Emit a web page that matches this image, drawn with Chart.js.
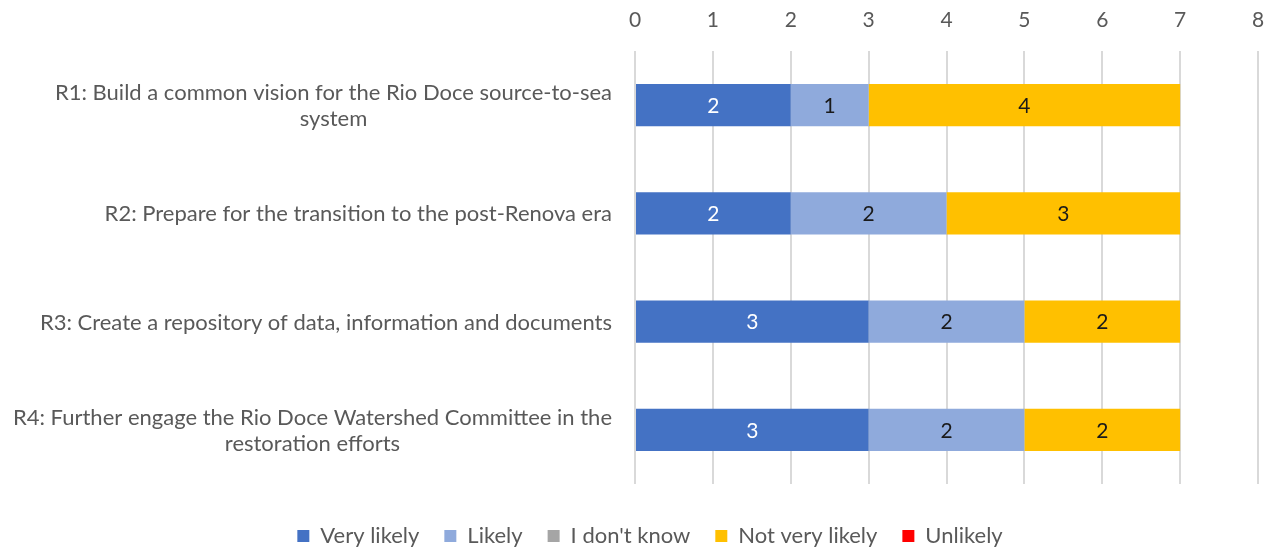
<!DOCTYPE html>
<html>
<head>
<meta charset="utf-8">
<script src="https://cdn.jsdelivr.net/npm/chart.js@4.4.1/dist/chart.umd.min.js"></script>
<style>
  html, body { margin: 0; padding: 0; background: #fff; }
  #wrap { width: 1275px; height: 548px; }
</style>
</head>
<body>
<div id="wrap"><canvas id="myChart"></canvas></div>
<script>
const categories = [
    ['R1: Build a common vision for the Rio Doce source-to-sea', 'system'],
    'R2: Prepare for the transition to the post-Renova era',
    'R3: Create a repository of data, information and documents',
    ['R4: Further engage the Rio Doce Watershed Committee in the', 'restoration efforts']
];
const seriesNames = ['Very likely', 'Likely', "I don't know", 'Not very likely', 'Unlikely'];
const veryLikely = [2, 2, 3, 3];
const likely = [1, 2, 2, 2];
const dontKnow = [0, 0, 0, 0];
const notVeryLikely = [4, 3, 2, 2];
const unlikely = [0, 0, 0, 0];
const xMin = 0;
const xMax = 8;

const colors = ['#4472C4', '#8FAADC', '#A5A5A5', '#FFC000', '#FF0000'];
const labelColors = ['#ffffff', '#1a1a1a', '#1a1a1a', '#1a1a1a', '#1a1a1a'];
const TEXT = '#595959';
const FONT = 'Lato';

// numbers in the middle of each bar segment
const barValues = {
    id: 'barValues',
    afterDatasetsDraw(chart) {
        const ctx = chart.ctx;
        ctx.save();
        ctx.font = '21px ' + FONT;
        ctx.textAlign = 'center';
        ctx.textBaseline = 'middle';
        chart.data.datasets.forEach((ds, i) => {
            const meta = chart.getDatasetMeta(i);
            if (meta.hidden) return;
            meta.data.forEach((bar, j) => {
                const v = ds.data[j];
                if (!v) return;
                const p = bar.getProps(['x', 'y', 'base'], true);
                ctx.fillStyle = labelColors[i];
                ctx.fillText(String(v), (p.x + p.base) / 2, p.y + 1);
            });
        });
        ctx.restore();
    }
};

// category labels: block right-aligned, lines centred within block
const catLabels = {
    id: 'catLabels',
    afterDraw(chart) {
        const scale = chart.scales.y;
        const ctx = chart.ctx;
        const lineH = 26;
        ctx.save();
        ctx.font = '22px ' + FONT;
        ctx.fillStyle = TEXT;
        ctx.textAlign = 'center';
        ctx.textBaseline = 'middle';
        categories.forEach((lab, i) => {
            const lines = Array.isArray(lab) ? lab : [lab];
            const w = Math.max(...lines.map(l => ctx.measureText(l).width));
            const right = scale.right - 23;
            const cx = right - w / 2;
            const cy = scale.getPixelForTick(i) + 1;
            const y0 = cy - (lines.length - 1) * lineH / 2;
            lines.forEach((l, k) => ctx.fillText(l, cx, y0 + k * lineH));
        });
        ctx.restore();
    }
};

// fixed legend height, items pushed down and a bit right
const legendFix = {
    id: 'legendFix',
    beforeUpdate(chart) {
        const lg = chart.legend;
        if (lg && !lg._fixed) {
            const fit = lg.fit;
            lg.fit = function () { fit.call(this); this.height = 64; };
            lg._fixed = true;
        }
    },
    afterLayout(chart) {
        const lg = chart.legend;
        if (lg) {
            lg.top += 16; lg.bottom += 16;
            lg.left += 21; lg.right += 21;
        }
    }
};

const series = [veryLikely, likely, dontKnow, notVeryLikely, unlikely];

new Chart(document.getElementById('myChart'), {
    type: 'bar',
    data: {
        labels: categories,
        datasets: series.map((d, i) => ({
            label: seriesNames[i],
            data: d,
            backgroundColor: colors[i],
            borderWidth: 0,
            barPercentage: 0.39,
            categoryPercentage: 1
        }))
    },
    options: {
        indexAxis: 'y',
        responsive: true,
        maintainAspectRatio: false,
        animation: false,
        layout: { padding: { left: 0, right: 17, top: 0, bottom: 0 } },
        scales: {
            x: {
                position: 'top',
                stacked: true,
                min: xMin,
                max: xMax,
                ticks: { stepSize: 1, color: TEXT, font: { family: FONT, size: 21 }, padding: 18 },
                grid: { color: '#D9D9D9', lineWidth: 2, drawTicks: false },
                border: { display: false },
                afterFit(s) { s.height = 51; s.paddingLeft = 0; s.paddingRight = 0; }
            },
            y: {
                stacked: true,
                ticks: { color: 'rgba(0,0,0,0)', font: { family: FONT, size: 18 } },
                grid: { display: false },
                border: { display: false },
                afterFit(s) { s.width = 635; }
            }
        },
        plugins: {
            legend: {
                position: 'bottom',
                labels: {
                    color: TEXT,
                    font: { family: FONT, size: 22 },
                    boxWidth: 12,
                    boxHeight: 12,
                    padding: 25
                }
            },
            tooltip: { enabled: false }
        }
    },
    plugins: [barValues, catLabels, legendFix]
});
</script>
</body>
</html>
